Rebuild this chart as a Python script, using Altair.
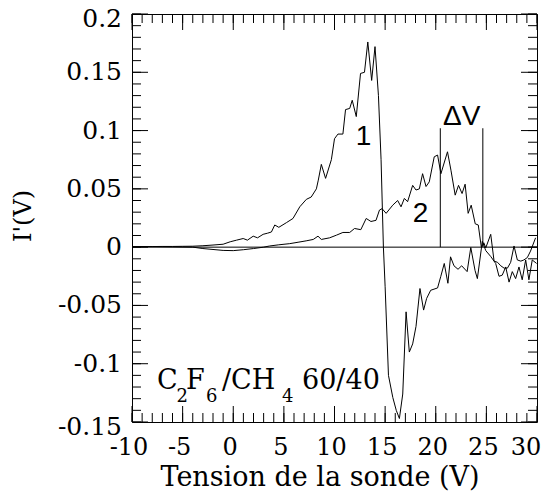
import altair as alt
import pandas as pd

# ---- data ----
v1 = [-10, -9, -8, -7, -6, -5, -4, -3, -2, -1, -0.3, 0.33, 0.98, 1.4, 1.97, 2.4, 2.95, 3.4, 3.77,
      4.1, 4.5, 5.25, 5.9, 6.57, 7.22, 7.7, 8.21, 8.4, 8.7, 9.12, 9.69, 10.0, 10.34, 10.83, 11.09,
      11.5, 11.75, 12.15, 12.57, 12.96, 13.29, 13.67, 14.0, 14.34, 14.6, 14.83, 15.0, 15.33, 15.76,
      16.1, 16.41, 16.74, 17.07, 17.39, 17.72, 18.05, 18.44, 18.8, 19.1, 19.5, 20.18, 20.5, 20.84,
      21.2, 21.46, 21.8, 22.2, 22.56, 23.1, 23.46, 23.88, 24.11, 24.6, 24.94, 25.43, 25.92, 26.25,
      26.57, 26.91, 27.24, 27.56, 27.89, 28.22, 28.54, 28.88, 29.2, 29.53, 29.96]
i1 = [0.0005, 0.0005, 0.0005, 0.0006, 0.0006, 0.0007, 0.0008, 0.0012, 0.0018, 0.0025, 0.0046, 0.006,
      0.0074, 0.006, 0.0094, 0.008, 0.011, 0.012, 0.013, 0.019, 0.017, 0.021, 0.0246, 0.0346, 0.041,
      0.043, 0.05, 0.0575, 0.071, 0.059, 0.075, 0.093, 0.097, 0.097, 0.118, 0.119, 0.126, 0.112,
      0.149, 0.15, 0.176, 0.143, 0.172, 0.13, 0.075, 0.0, -0.034, -0.110, -0.129, -0.14, -0.147,
      -0.126, -0.0555, -0.09, -0.083, -0.068, -0.0355, -0.054, -0.044, -0.037, -0.035, -0.025,
      -0.014, -0.031, -0.0083, -0.016, -0.019, -0.016, -0.021, -0.0003, -0.02, -0.027, 0.005,
      -0.003, -0.008, -0.014, -0.025, -0.024, -0.017, -0.03, -0.021, -0.027, -0.017, -0.028,
      -0.011, -0.028, -0.011, -0.014]

v2 = [-10, -8, -6, -4, -3, -2, -1, 0, 1, 2, 3, 3.6, 4.5, 5.58, 6.4, 7.2, 7.9, 8.37, 8.7, 9.52,
      10.2, 10.83, 11.5, 11.98, 12.6, 13.13, 13.6, 14.1, 14.44, 14.7, 15.1, 15.75, 16.24, 16.57,
      16.9, 17.22, 17.72, 18.05, 18.38, 18.7, 19.04, 19.36, 19.85, 20.18, 20.51, 21.16, 21.5,
      21.92, 22.25, 22.6, 22.9, 23.2, 23.5, 23.9, 24.2, 24.5, 24.75, 24.94, 25.43, 25.76, 26.1,
      26.42, 26.75, 27.08, 27.4, 27.73, 28.06, 28.4, 28.7, 29.04, 29.36, 29.86]
i2 = [0.0005, 0.0005, 0.0003, 0.0, -0.0012, -0.002, -0.0028, -0.003, -0.0022, -0.0012, 0.0, 0.001,
      0.002, 0.003, 0.0042, 0.0054, 0.0066, 0.0094, 0.0066, 0.008, 0.0103, 0.0126, 0.0126, 0.016,
      0.015, 0.0246, 0.022, 0.023, 0.0318, 0.033, 0.029, 0.036, 0.040, 0.0346, 0.0418, 0.039,
      0.053, 0.049, 0.05, 0.063, 0.052, 0.056, 0.0775, 0.079, 0.063, 0.0818, 0.066, 0.0446, 0.053,
      0.046, 0.054, 0.029, 0.036, 0.02, 0.019, 0.0, 0.0037, -0.0006, 0.011, -0.012, -0.013, -0.016,
      -0.018, -0.018, -0.013, 0.001, -0.011, -0.012, -0.011, -0.009, -0.0034, 0.008]

x_major = [-10, -5, 0, 5, 10, 15, 20, 25, 30]
x_tick_labels = ["-10", "-5", "0", "5", "10", "15", "20", "25", "30"]
x_minor = list(range(-10, 31))
y_major = [-0.15, -0.1, -0.05, 0, 0.05, 0.1, 0.15, 0.2]
y_tick_labels = ["-0.15", "-0.1", "-0.05", "0", "0.05", "0.1", "0.15", "0.2"]
y_minor = [round(-0.15 + 0.01 * k, 2) for k in range(36)]

x_title = "Tension de la sonde (V)"
y_title = "I'(V)"

dv_v = [20.45, 24.65]
dv_bottom = [0.0, 0.0]
dv_top = [0.102, 0.102]

curve_labels = ["1", "2"]
curve_label_v = [12.86, 18.49]
curve_label_i = [0.0876, 0.0218]

delta_label = ["ΔV"]
delta_label_v = [22.56]
delta_label_i = [0.1047]

# gas mixture label, written as pieces (main text and lowered subscripts)
gas_pieces = ["C", "2", "F", "6", "/CH", "4", "60/40"]
gas_piece_v = [-7.53, -5.60, -4.67, -2.69, -1.11, 4.82, 6.79]
gas_piece_i = [-0.1217, -0.1329, -0.1217, -0.1329, -0.1217, -0.1329, -0.1217]
gas_piece_size = [27, 18, 27, 18, 27, 18, 27]

# ---- styling ----
SERIF = "DejaVu Serif"
SANS = "Liberation Sans"
W, H = 405, 408
MAJ, MIN = 16, 9                      # tick lengths in pixels
X_DOM, Y_DOM = [-10, 30], [-0.15, 0.2]
PX_PER_V = W / (X_DOM[1] - X_DOM[0])
PX_PER_I = H / (Y_DOM[1] - Y_DOM[0])
xs = alt.Scale(domain=X_DOM, nice=False, zero=False)
ys = alt.Scale(domain=Y_DOM, nice=False, zero=False)


def X(field):
    return alt.X(field, type="quantitative", scale=xs, axis=None)


def Y(field):
    return alt.Y(field, type="quantitative", scale=ys, axis=None)


df = pd.concat([
    pd.DataFrame({"V": v1, "I": i1, "curve": "1"}),
    pd.DataFrame({"V": v2, "I": i2, "curve": "2"}),
])

lines = alt.Chart(df).mark_line(color="black", strokeWidth=1).encode(
    x=X("V"), y=Y("I"), detail="curve:N",
)


def tick_layer(values, side, length):
    """Inward-pointing ticks on one side of the frame, drawn through the scales."""
    n = len(values)
    if side in ("bottom", "top"):
        edge = Y_DOM[0] if side == "bottom" else Y_DOM[1]
        sgn = 1 if side == "bottom" else -1
        d = pd.DataFrame({"V": values, "I": [edge] * n,
                          "I2": [edge + sgn * length / PX_PER_I] * n})
        return alt.Chart(d).mark_rule(color="black", strokeWidth=1).encode(
            x=X("V"), y=Y("I"), y2="I2:Q")
    edge = X_DOM[0] if side == "left" else X_DOM[1]
    sgn = 1 if side == "left" else -1
    d = pd.DataFrame({"I": values, "V": [edge] * n,
                      "V2": [edge + sgn * length / PX_PER_V] * n})
    return alt.Chart(d).mark_rule(color="black", strokeWidth=1).encode(
        y=Y("I"), x=X("V"), x2="V2:Q")


ticks = [tick_layer(x_minor, s, MIN) for s in ("bottom", "top")] + \
        [tick_layer(x_major, s, MAJ) for s in ("bottom", "top")] + \
        [tick_layer(y_minor, s, MIN) for s in ("left", "right")] + \
        [tick_layer(y_major, s, MAJ) for s in ("left", "right")]

# tick labels, placed by the scales
x_lab_df = pd.DataFrame({"V": x_major, "t": x_tick_labels})
x_labels_main = alt.Chart(x_lab_df.iloc[:-1]).mark_text(
    font=SERIF, fontSize=24, align="center", baseline="top", color="black", dx=-3).encode(
    x=X("V"), y=alt.value(H + 14), text="t:N")
x_labels_end = alt.Chart(x_lab_df.iloc[-1:]).mark_text(
    font=SERIF, fontSize=24, align="center", baseline="top", color="black", dx=-11).encode(
    x=X("V"), y=alt.value(H + 14), text="t:N")

y_lab_df = pd.DataFrame({"I": y_major, "t": y_tick_labels})
y_labels_main = alt.Chart(y_lab_df.iloc[1:-1]).mark_text(
    font=SERIF, fontSize=25, align="right", baseline="middle", color="black").encode(
    y=Y("I"), x=alt.value(-10), text="t:N")
y_labels_ends = alt.Chart(y_lab_df.iloc[[0, -1]]).mark_text(
    font=SERIF, fontSize=25, align="right", baseline="middle", color="black", dy=5).encode(
    y=Y("I"), x=alt.value(-10), text="t:N")

x_title_mark = alt.Chart(pd.DataFrame({"t": [x_title]})).mark_text(
    font=SERIF, fontSize=27, align="center", baseline="alphabetic", color="black").encode(
    x=alt.value(188), y=alt.value(H + 64), text="t:N")
y_title_mark = alt.Chart(pd.DataFrame({"t": [y_title]})).mark_text(
    font=SERIF, fontSize=24, align="center", baseline="middle", angle=270, color="black").encode(
    x=alt.value(-108), y=alt.value(202), text="t:N")

zero = alt.Chart(pd.DataFrame({"I": [0.0]})).mark_rule(color="black", strokeWidth=1).encode(
    y=Y("I"),
)

dv_rules = alt.Chart(pd.DataFrame({"V": dv_v, "I": dv_bottom, "I2": dv_top})).mark_rule(
    color="black", strokeWidth=1).encode(
    x=X("V"), y=Y("I"), y2="I2:Q",
)

curve_text = alt.Chart(pd.DataFrame({"V": curve_label_v + delta_label_v,
                                     "I": curve_label_i + delta_label_i,
                                     "t": curve_labels + delta_label})).mark_text(
    font=SANS, fontSize=28, align="center", baseline="alphabetic", color="black").encode(
    x=X("V"), y=Y("I"), text="t:N",
)

gas_text = alt.Chart(pd.DataFrame({"V": gas_piece_v, "I": gas_piece_i, "t": gas_pieces,
                                   "fs": gas_piece_size})).mark_text(
    font=SERIF, align="left", baseline="alphabetic", color="black").encode(
    x=X("V"), y=Y("I"),
    size=alt.Size("fs:Q", scale=None, legend=None),
    text="t:N",
)

chart = alt.layer(lines, *ticks, zero, dv_rules, curve_text, gas_text,
                  x_labels_main, x_labels_end, y_labels_main, y_labels_ends,
                  x_title_mark, y_title_mark).properties(
    width=W, height=H,
    padding={"left": 124, "top": 6, "right": 5, "bottom": 71},
    autosize=alt.AutoSizeParams(type="none"),
    background="white",
).configure_view(stroke="black", strokeWidth=1)

chart.save("out.html", embed_options={"renderer": "svg", "actions": False})
